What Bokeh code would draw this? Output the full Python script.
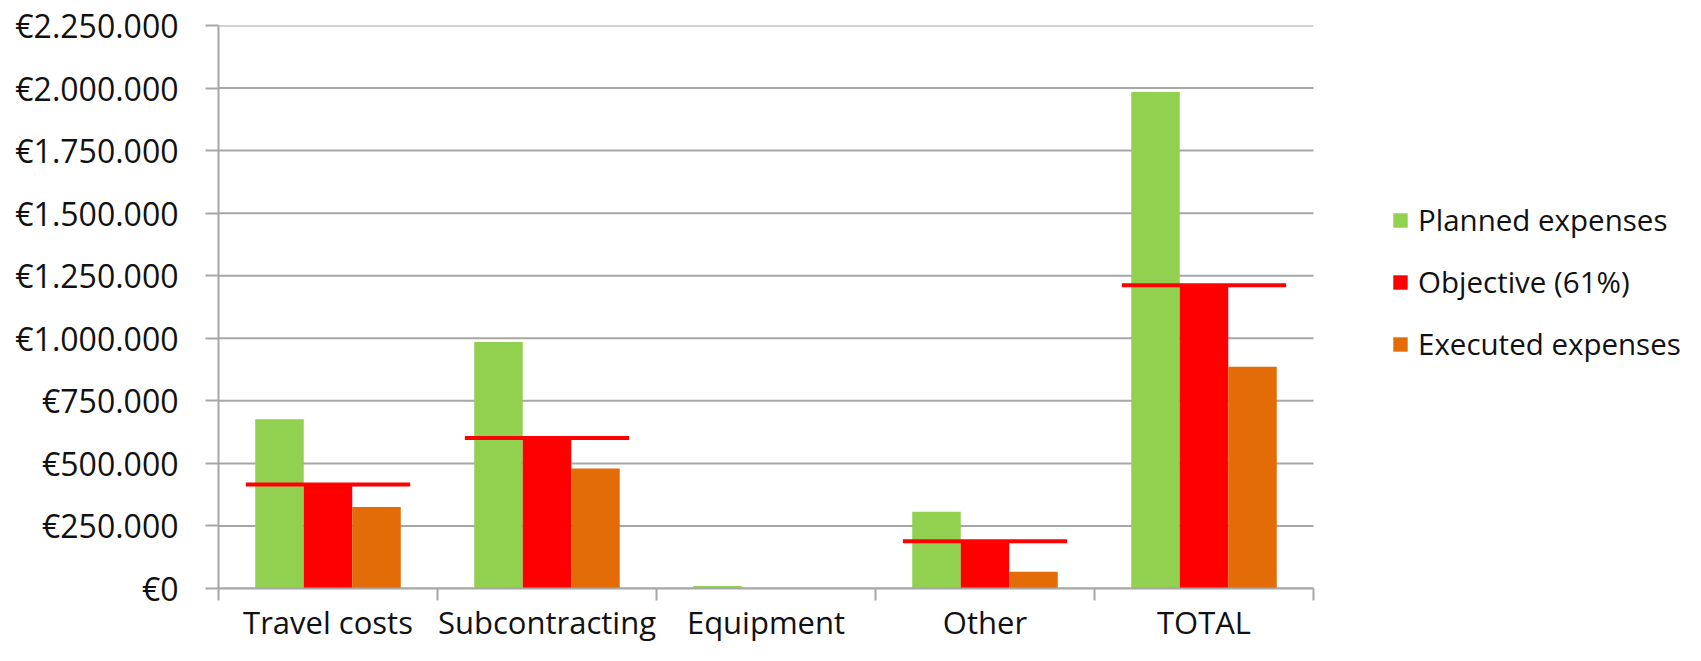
import numpy as np
from bokeh.plotting import figure
from bokeh.models import (ColumnDataSource, FixedTicker, SingleIntervalTicker,
                          CustomJSTickFormatter, Legend, LegendItem, Range1d)
from bokeh.transform import dodge
from bokeh.embed import file_html
from bokeh.resources import INLINE

# ---- data ----
categories = ["Travel costs", "Subcontracting", "Equipment", "Other", "TOTAL"]
planned = [676000, 985000, 10000, 307000, 1984000]
objective = [416000, 601000, 0, 189000, 1212000]
executed = [326000, 480000, 0, 67000, 886000]
y_max = 2250000
y_step = 250000

# ---- styles ----
GREEN = "#92D050"
RED = "#FF0000"
ORANGE = "#E36C09"
GRID = "#A6A6A6"
TEXT = "#111111"
FONT = "Open Sans"

W, H = 1685, 645
LEFT, TOP = 218, 25
CAT_PX = 219.0                      # pixel width of one category slot
n = len(categories)
x_end = (W - LEFT) / CAT_PX         # frame extends right so the legend sits inside it

centers = list(np.arange(n) + 0.5)
obj_line = [v if v > 0 else np.nan for v in objective]
src = ColumnDataSource(dict(xc=centers, cat=categories, planned=planned,
                            objective=objective, executed=executed,
                            obj_line=obj_line))
grid_vals = list(np.arange(0, y_max + 1, y_step))
grid_src = ColumnDataSource(dict(y=grid_vals, x0=[0] * len(grid_vals), x1=[n] * len(grid_vals)))

p = figure(width=W, height=H, output_backend="svg", toolbar_location=None,
           x_range=Range1d(0, x_end), y_range=Range1d(0, y_max),
           min_border_left=LEFT, min_border_right=0, min_border_top=TOP,
           min_border_bottom=0)
p.outline_line_color = None
p.background_fill_color = "white"

# horizontal gridlines, limited to the category area
p.segment(x0="x0", x1="x1", y0="y", y1="y", source=grid_src,
          line_color=GRID, line_width=2)

bw = 0.2215
r_pl = p.vbar(x=dodge("xc", -bw), top="planned", width=bw,
              source=src, fill_color=GREEN, line_color=None)
r_ob = p.vbar(x=dodge("xc", 0), top="objective", width=bw,
              source=src, fill_color=RED, line_color=None)
r_ex = p.vbar(x=dodge("xc", bw), top="executed", width=bw,
              source=src, fill_color=ORANGE, line_color=None)
p.segment(x0=dodge("xc", -0.375), x1=dodge("xc", 0.375),
          y0="obj_line", y1="obj_line", source=src, line_color=RED, line_width=4)

# x axis
p.xaxis.bounds = (0, n)
p.xaxis.ticker = FixedTicker(ticks=centers, minor_ticks=list(range(n + 1)))
p.xaxis.formatter = CustomJSTickFormatter(args=dict(cats=categories),
                                          code="return cats[Math.round(tick - 0.5)];")
p.xaxis.major_tick_out = 0
p.xaxis.major_tick_in = 0
p.xaxis.minor_tick_out = 12
p.xaxis.minor_tick_in = 0
p.xaxis.minor_tick_line_color = GRID
p.xaxis.minor_tick_line_width = 2
p.xaxis.axis_line_color = GRID
p.xaxis.axis_line_width = 2
p.xaxis.major_label_standoff = 0
p.xaxis.major_label_text_font = FONT
p.xaxis.major_label_text_font_size = "31px"
p.xaxis.major_label_text_color = TEXT

# y axis
p.yaxis.ticker = SingleIntervalTicker(interval=y_step, num_minor_ticks=0)
p.yaxis.formatter = CustomJSTickFormatter(
    code="return '\u20ac' + String(Math.round(tick)).replace(/\\B(?=(\\d{3})+(?!\\d))/g, '.');")
p.yaxis.major_tick_out = 13
p.yaxis.major_tick_in = 0
p.yaxis.minor_tick_line_color = None
p.yaxis.major_tick_line_color = GRID
p.yaxis.major_tick_line_width = 2
p.yaxis.axis_line_color = GRID
p.yaxis.axis_line_width = 2
p.yaxis.major_label_standoff = 27
p.yaxis.major_label_text_font = FONT
p.yaxis.major_label_text_font_size = "32px"
p.yaxis.major_label_text_color = TEXT

p.xgrid.grid_line_color = None
p.ygrid.grid_line_color = None

legend = Legend(items=[LegendItem(label="Planned expenses", renderers=[r_pl]),
                       LegendItem(label="Objective (61%)", renderers=[r_ob]),
                       LegendItem(label="Executed expenses", renderers=[r_ex])],
                location=(1173, 224), orientation="vertical")
legend.glyph_width = 18
legend.glyph_height = 18
legend.label_standoff = 9
legend.spacing = 21
legend.padding = 0
legend.margin = 0
legend.border_line_color = None
legend.background_fill_alpha = 0
legend.label_text_font = FONT
legend.label_text_font_size = "29.5px"
legend.label_text_color = TEXT
p.add_layout(legend, "center")

open("out.html", "w").write(file_html(p, INLINE))
